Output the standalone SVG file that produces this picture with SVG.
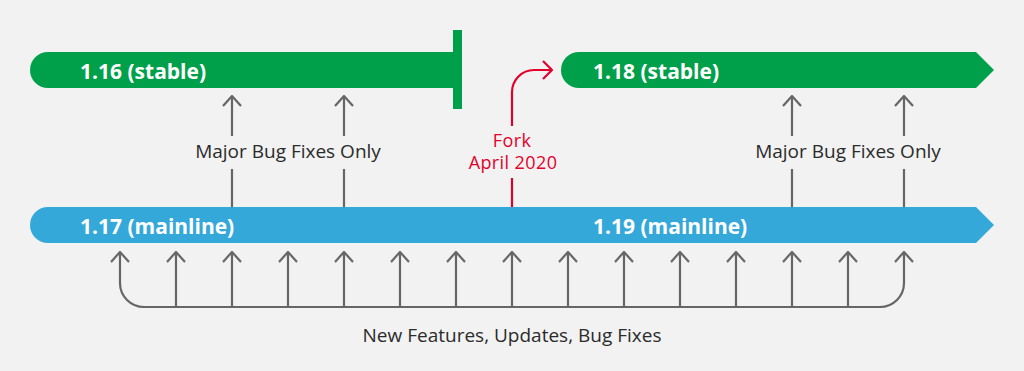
<svg xmlns="http://www.w3.org/2000/svg" width="1024" height="371" viewBox="0 0 1024 371">
<style>
.bar-label{font-family:"Open Sans","Liberation Sans",sans-serif;font-weight:700;font-size:21px;fill:#ffffff}
.label{font-family:"Open Sans","Liberation Sans",sans-serif;font-size:19px;fill:#2b2b2b}
.red-label{font-family:"Open Sans","Liberation Sans",sans-serif;font-size:18px;letter-spacing:0.4px;fill:#e4002b;text-anchor:middle}
.gl{fill:none;stroke:#666666;stroke-width:2.2;stroke-linejoin:round}
.rl{fill:none;stroke:#e4002b;stroke-width:2.2;stroke-linejoin:round}
.green{fill:#00a04b}
.blue{fill:#35a8da}
</style>
<defs>
<path id="head" d="M-9,10 L0,0 L9,10" class="gl"/>
</defs>
<rect width="1024" height="371" fill="#f2f2f2"/>

<g id="stable-116">
<path class="green" d="M48,52 H454 V88 H48 A18,18 0 0 1 48,52 Z"/>
<rect class="green" x="453" y="30" width="9" height="79"/>
<text class="bar-label" x="80" y="79">1.16 (stable)</text>
</g>

<g id="stable-118">
<path class="green" d="M579,52 H976 L994,70 L976,88 H579 A18,18 0 0 1 579,52 Z"/>
<text class="bar-label" x="593" y="79">1.18 (stable)</text>
</g>

<g id="mainline">
<path class="blue" d="M48,207 H976 L994,225 L976,243 H48 A18,18 0 0 1 48,207 Z"/>
<text class="bar-label" x="80" y="234">1.17 (mainline)</text>
<text class="bar-label" x="593" y="234">1.19 (mainline)</text>
</g>

<g id="connectors">
<!-- backports to 1.16 -->
<path class="gl" d="M232,207 V169 M232,136 V96 M344,207 V169 M344,136 V96"/>
<use href="#head" x="232" y="96"/>
<use href="#head" x="344" y="96"/>
<!-- backports to 1.18 -->
<path class="gl" d="M792,207 V169 M792,136 V96 M904,207 V169 M904,136 V96"/>
<use href="#head" x="792" y="96"/>
<use href="#head" x="904" y="96"/>
<!-- fork -->
<path class="rl" d="M512,207 V178 M512,126 V92 A22,22 0 0 1 534,70 H551"/>
<path class="rl" d="M543,61 L552,70 L543,79"/>
<!-- bottom bracket -->
<path class="gl" d="M120,252 V283 A24,24 0 0 0 144,307 H880 A24,24 0 0 0 904,283 V252"/>
<path class="gl" d="M176,307 V252 M232,307 V252 M288,307 V252 M344,307 V252 M400,307 V252 M456,307 V252 M512,307 V252 M568,307 V252 M624,307 V252 M680,307 V252 M736,307 V252 M792,307 V252 M848,307 V252"/>
<use href="#head" x="120" y="252"/>
<use href="#head" x="176" y="252"/>
<use href="#head" x="232" y="252"/>
<use href="#head" x="288" y="252"/>
<use href="#head" x="344" y="252"/>
<use href="#head" x="400" y="252"/>
<use href="#head" x="456" y="252"/>
<use href="#head" x="512" y="252"/>
<use href="#head" x="568" y="252"/>
<use href="#head" x="624" y="252"/>
<use href="#head" x="680" y="252"/>
<use href="#head" x="736" y="252"/>
<use href="#head" x="792" y="252"/>
<use href="#head" x="848" y="252"/>
<use href="#head" x="904" y="252"/>
</g>

<g id="label-major-left">
<text class="label" x="288" y="158" text-anchor="middle">Major Bug Fixes Only</text>
</g>
<g id="label-major-right">
<text class="label" x="848" y="158" text-anchor="middle">Major Bug Fixes Only</text>
</g>
<g id="label-fork">
<text class="red-label" x="512" y="147">Fork</text>
<text class="red-label" x="513" y="169">April 2020</text>
</g>
<g id="label-bottom">
<text class="label" x="512" y="342" text-anchor="middle">New Features, Updates, Bug Fixes</text>
</g>
</svg>
